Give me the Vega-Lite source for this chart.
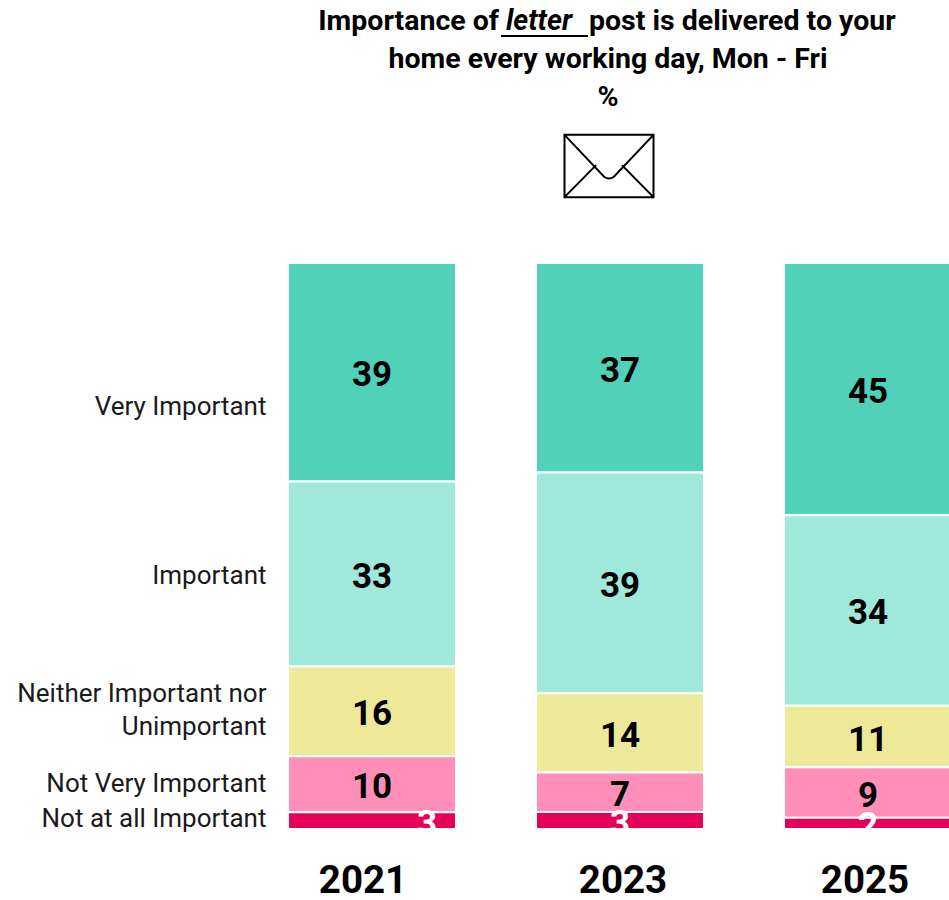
{
"$schema":"https://vega.github.io/schema/vega-lite/v6.json",
"autosize":{"type":"none"},
"padding":{"left":288,"top":263,"right":0,"bottom":71},
"width":664,"height":566,
"background":"white",
"config":{"view":{"stroke":null},"font":"Roboto"},
"datasets":{"rows":[
{"year":"2021","category":"Very Important","rank":1,"value":39},
{"year":"2021","category":"Important","rank":2,"value":33},
{"year":"2021","category":"Neither Important nor Unimportant","rank":3,"value":16},
{"year":"2021","category":"Not Very Important","rank":4,"value":10},
{"year":"2021","category":"Not at all Important","rank":5,"value":3},
{"year":"2023","category":"Very Important","rank":1,"value":37},
{"year":"2023","category":"Important","rank":2,"value":39},
{"year":"2023","category":"Neither Important nor Unimportant","rank":3,"value":14},
{"year":"2023","category":"Not Very Important","rank":4,"value":7},
{"year":"2023","category":"Not at all Important","rank":5,"value":3},
{"year":"2025","category":"Very Important","rank":1,"value":45},
{"year":"2025","category":"Important","rank":2,"value":34},
{"year":"2025","category":"Neither Important nor Unimportant","rank":3,"value":11},
{"year":"2025","category":"Not Very Important","rank":4,"value":9},
{"year":"2025","category":"Not at all Important","rank":5,"value":2}
]},
"data":{"name":"rows"},
"transform":[
{"stack":"value","groupby":["year"],"sort":[{"field":"rank","order":"descending"}],"offset":"normalize","as":["y0","y1"]},
{"calculate":"(datum.y0+datum.y1)/2","as":"mid"}
],
"encoding":{"x":{"field":"year","type":"nominal","scale":{"paddingInner":0.3226,"paddingOuter":0},
"axis":{"title":null,"domain":false,"ticks":false,"labelAngle":0,"labelFont":"Roboto","labelFontWeight":"bold","labelFontSize":38.5,"labelColor":"black","labelPadding":33,
"labelOffset":{"condition":[{"test":"datum.value=='2021'","value":-9},{"test":"datum.value=='2023'","value":3}],"value":-3}}}},
"layer":[
{"mark":{"type":"bar","stroke":"white","strokeWidth":2},
"encoding":{
"y":{"field":"y0","type":"quantitative","scale":{"domain":[0,1],"nice":false},
"axis":{"title":null,"domain":false,"ticks":false,"grid":false,"labelPadding":22,"labelFont":"Roboto","labelFontSize":26,"labelColor":"#1a1a1a","labelLimit":400,"labelOverlap":false,"labelBound":false,"labelLineHeight":33,
"values":[0.018,0.08,0.24,0.447,0.746],
"labelExpr":"datum.value==0.24?['Neither Important nor','Unimportant']:datum.value==0.018?'Not at all Important':datum.value==0.08?'Not Very Important':datum.value==0.447?'Important':'Very Important'"}},
"y2":{"field":"y1"},
"color":{"field":"category","type":"nominal","legend":null,"scale":{"domain":["Very Important","Important","Neither Important nor Unimportant","Not Very Important","Not at all Important"],"range":["#52D1BA","#A0E8DA","#EEE999","#FF8FB8","#E6005A"]}},
"tooltip":{"field":"value"}
}},
{"transform":[{"filter":"!(datum.year=='2021'&&datum.rank==5)"}],
"mark":{"type":"text","fontWeight":"bold","fontSize":35,"font":"Roboto","dy":3,"clip":true},
"encoding":{"y":{"field":"mid","type":"quantitative"},"text":{"field":"value"},
"color":{"condition":{"test":"datum.rank==5","value":"white"},"value":"black"}}},
{"transform":[{"filter":"datum.year=='2021'&&datum.rank==5"}],
"mark":{"type":"text","fontWeight":"bold","fontSize":35,"font":"Roboto","dy":3,"dx":55,"clip":true,"color":"white"},
"encoding":{"y":{"field":"mid","type":"quantitative"},"text":{"field":"value"}}},
{"data":{"values":[{"a":1}]},"transform":[],"mark":{"type":"text","text":"Importance of","font":"Roboto","fontWeight":"bold","fontSize":28.5,"align":"right","baseline":"middle","color":"black"},"encoding":{"x":{"value":211},"y":{"value":-242}}},
{"data":{"values":[{"a":1}]},"transform":[],"mark":{"type":"text","text":"letter","font":"Roboto","fontWeight":"bold","fontStyle":"italic","fontSize":28.5,"align":"left","baseline":"middle","color":"black"},"encoding":{"x":{"value":218},"y":{"value":-242}}},
{"data":{"values":[{"a":1}]},"transform":[],"mark":{"type":"text","text":"post is delivered to your","font":"Roboto","fontWeight":"bold","fontSize":28.5,"align":"left","baseline":"middle","color":"black"},"encoding":{"x":{"value":301},"y":{"value":-242}}},
{"data":{"values":[{"a":1}]},"transform":[],"mark":{"type":"rule","color":"black","strokeWidth":2},"encoding":{"x":{"value":213},"x2":{"value":300},"y":{"value":-227}}},
{"data":{"values":[{"a":1}]},"transform":[],"mark":{"type":"text","text":"home every working day, Mon - Fri","font":"Roboto","fontWeight":"bold","fontSize":28.5,"align":"center","baseline":"middle","color":"black"},"encoding":{"x":{"value":320},"y":{"value":-204}}},
{"data":{"values":[{"a":1}]},"transform":[],"mark":{"type":"text","text":"%","font":"Roboto","fontWeight":"bold","fontSize":28.5,"align":"center","baseline":"middle","color":"black"},"encoding":{"x":{"value":320},"y":{"value":-166}}},
{"data":{"values":[{"a":1}]},"transform":[],"mark":{"type":"point","shape":"M-1,-0.7L1,-0.7L1,0.7L-1,0.7ZM-1,-0.7L-0.1,0.25Q0,0.31,0.1,0.25L1,-0.7M-1,0.7L-0.29,-0.02M1,0.7L0.29,-0.02","size":7921,"filled":false,"stroke":"black","strokeWidth":2,"opacity":1},"encoding":{"x":{"value":321},"y":{"value":-97}}}
]
}
